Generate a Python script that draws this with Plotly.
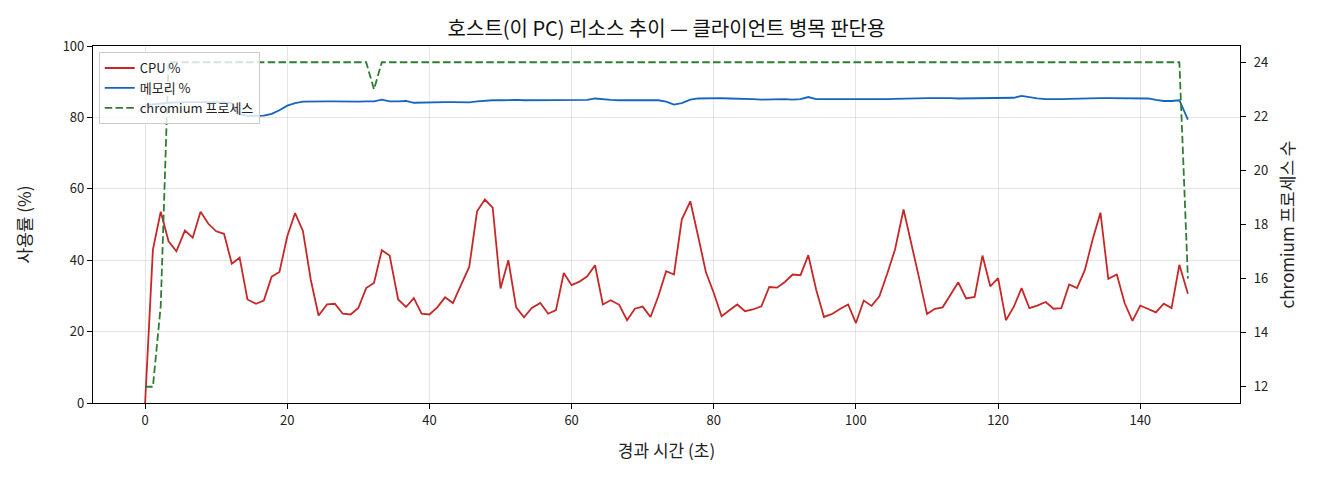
import plotly.graph_objects as go

# elapsed seconds
elapsed = [0.0, 1.1, 2.2, 3.3, 4.4, 5.6, 6.7, 7.8, 8.9, 10.0,
           11.1, 12.2, 13.3, 14.4, 15.6, 16.7, 17.8, 18.9, 20.0, 21.1,
           22.2, 23.3, 24.4, 25.6, 26.7, 27.8, 28.9, 30.0, 31.1, 32.2,
           33.3, 34.4, 35.6, 36.7, 37.8, 38.9, 40.0, 41.1, 42.2, 43.3,
           44.4, 45.6, 46.7, 47.8, 48.9, 50.0, 51.1, 52.2, 53.3, 54.4,
           55.6, 56.7, 57.8, 58.9, 60.0, 61.1, 62.2, 63.3, 64.4, 65.5,
           66.7, 67.8, 68.9, 70.0, 71.1, 72.2, 73.3, 74.4, 75.5, 76.7,
           77.8, 78.9, 80.0, 81.1, 82.2, 83.3, 84.4, 85.5, 86.7, 87.8,
           88.9, 90.0, 91.1, 92.2, 93.3, 94.4, 95.5, 96.7, 97.8, 98.9,
           100.0, 101.1, 102.2, 103.3, 104.4, 105.5, 106.7, 107.8, 108.9, 110.0,
           111.1, 112.2, 113.3, 114.4, 115.5, 116.7, 117.8, 118.9, 120.0, 121.1,
           122.2, 123.3, 124.4, 125.5, 126.7, 127.8, 128.9, 130.0, 131.1, 132.2,
           133.3, 134.4, 135.5, 136.7, 137.8, 138.9, 140.0, 141.1, 142.2, 143.3,
           144.4, 145.5, 146.7]

cpu_pct = [0.0, 43.0, 53.6, 45.3, 42.5, 48.3, 46.3, 53.6, 50.2, 48.1,
           47.4, 39.0, 40.7, 29.0, 27.8, 28.7, 35.4, 36.7, 46.7, 53.2,
           48.2, 34.6, 24.5, 27.6, 27.8, 25.0, 24.8, 26.6, 32.2, 33.6,
           42.8, 41.3, 29.0, 26.9, 29.4, 25.0, 24.8, 26.8, 29.6, 28.0,
           32.9, 38.1, 53.7, 57.0, 54.7, 32.1, 40.0, 26.8, 24.0, 26.6,
           28.0, 25.0, 26.0, 36.4, 33.0, 34.0, 35.5, 38.6, 27.6, 28.8,
           27.5, 23.2, 26.4, 27.0, 24.1, 29.9, 36.9, 36.0, 51.4, 56.5,
           46.7, 36.6, 30.8, 24.3, 26.0, 27.6, 25.7, 26.2, 27.1, 32.5,
           32.3, 33.9, 36.0, 35.8, 41.4, 31.8, 24.1, 25.0, 26.4, 27.6,
           22.4, 28.7, 27.2, 29.9, 36.2, 43.0, 54.2, 44.9, 34.9, 24.9,
           26.4, 26.8, 30.4, 33.8, 29.3, 29.7, 41.3, 32.7, 35.0, 23.2,
           26.9, 32.2, 26.6, 27.3, 28.3, 26.4, 26.6, 33.2, 32.2, 37.2,
           45.8, 53.3, 34.8, 36.0, 28.0, 23.0, 27.3, 26.4, 25.4, 27.8,
           26.6, 38.7, 30.6]

mem_pct = [83.4, 83.7, 84.0, 84.1, 84.2, 84.3, 84.3, 84.3, 84.3, 84.3,
           84.2, 84.0, 80.9, 80.4, 80.4, 80.5, 81.0, 82.0, 83.3, 84.0,
           84.4, 84.5, 84.5, 84.5, 84.5, 84.4, 84.4, 84.4, 84.5, 84.5,
           85.0, 84.5, 84.5, 84.6, 84.1, 84.2, 84.2, 84.2, 84.3, 84.3,
           84.3, 84.2, 84.5, 84.7, 84.8, 84.8, 84.9, 84.9, 84.8, 84.8,
           84.8, 84.8, 84.7, 84.7, 84.7, 84.8, 84.9, 85.3, 85.0, 84.9,
           84.8, 84.8, 84.8, 84.8, 84.9, 84.8, 84.4, 83.6, 84.0, 85.0,
           85.3, 85.4, 85.4, 85.4, 85.3, 85.3, 85.2, 85.1, 85.0, 85.1,
           85.1, 85.1, 85.0, 85.1, 85.7, 85.1, 85.1, 85.1, 85.1, 85.0,
           85.0, 84.9, 84.9, 85.0, 85.1, 85.2, 85.3, 85.4, 85.4, 85.4,
           85.4, 85.5, 85.4, 85.3, 85.3, 85.4, 85.4, 85.4, 85.4, 85.4,
           85.5, 86.0, 85.6, 85.3, 85.1, 85.0, 85.1, 85.2, 85.3, 85.4,
           85.4, 85.4, 85.4, 85.4, 85.4, 85.4, 85.4, 85.3, 84.9, 84.6,
           84.6, 84.8, 79.4]

chromium_count = [12, 12, 15, 24, 24, 24, 24, 24, 24, 24,
                  24, 24, 24, 24, 24, 24, 24, 24, 24, 24,
                  24, 24, 24, 24, 24, 24, 24, 24, 24, 23,
                  24, 24, 24, 24, 24, 24, 24, 24, 24, 24,
                  24, 24, 24, 24, 24, 24, 24, 24, 24, 24,
                  24, 24, 24, 24, 24, 24, 24, 24, 24, 24,
                  24, 24, 24, 24, 24, 24, 24, 24, 24, 24,
                  24, 24, 24, 24, 24, 24, 24, 24, 24, 24,
                  24, 24, 24, 24, 24, 24, 24, 24, 24, 24,
                  24, 24, 24, 24, 24, 24, 24, 24, 24, 24,
                  24, 24, 24, 24, 24, 24, 24, 24, 24, 24,
                  24, 24, 24, 24, 24, 24, 24, 24, 24, 24,
                  24, 24, 24, 24, 24, 24, 24, 24, 24, 24,
                  24, 24, 16]

x_ticks = [0, 20, 40, 60, 80, 100, 120, 140]
y_ticks = [0, 20, 40, 60, 80, 100]
y2_ticks = [12, 14, 16, 18, 20, 22, 24]

FONT = "Noto Sans CJK KR"
INK = "#222222"

fig = go.Figure()
fig.add_trace(go.Scatter(x=elapsed, y=cpu_pct, mode="lines", name="CPU %",
                         line=dict(color="#c62828", width=1.8)))
fig.add_trace(go.Scatter(x=elapsed, y=mem_pct, mode="lines", name="메모리 %",
                         line=dict(color="#1565c0", width=1.8)))
fig.add_trace(go.Scatter(x=elapsed, y=chromium_count, mode="lines", name="chromium 프로세스",
                         yaxis="y2", line=dict(color="#2e7d32", width=1.8, dash="7.5px,3.3px")))

fig.update_layout(
    width=1320, height=480,
    margin=dict(l=85, r=88, t=38, b=85),
    paper_bgcolor="white", plot_bgcolor="white",
    font=dict(family=FONT, size=13, color=INK),
    title=dict(text="호스트(이 PC) 리소스 추이 — 클라이언트 병목 판단용",
               x=(93 - 8 + (1240 - 93) / 2) / 1320, xref="container", xanchor="center",
               y=1 - 21 / 480, yref="container", yanchor="middle",
               font=dict(family=FONT, size=20, color="#111111")),
    xaxis=dict(range=[-7.33, 154.03], tickvals=x_ticks, ticks="outside", ticklen=5,
               tickcolor="black", showline=True, linecolor="black", linewidth=1.2, mirror=True,
               showgrid=True, gridcolor="rgba(0,0,0,0.1)", gridwidth=1, zeroline=False,
               tickfont=dict(size=13),
               title=dict(text="경과 시간 (초)", font=dict(size=17), standoff=17)),
    yaxis=dict(range=[0, 100], tickvals=y_ticks, ticks="outside", ticklen=5,
               tickcolor="black", showline=True, linecolor="black", linewidth=1.2,
               showgrid=True, gridcolor="rgba(0,0,0,0.1)", gridwidth=1, zeroline=False,
               tickfont=dict(size=13),
               title=dict(text="사용률 (%)", font=dict(size=17), standoff=26)),
    yaxis2=dict(range=[11.4, 24.6], tickvals=y2_ticks, overlaying="y", side="right",
                ticks="outside", ticklen=5, tickcolor="black", showline=True,
                linecolor="black", linewidth=1.2, showgrid=False, zeroline=False,
                tickfont=dict(size=13), ticklabelstandoff=5,
                title=dict(text="chromium 프로세스 수", font=dict(size=17), standoff=14)),
    legend=dict(x=0.005, y=0.983, xanchor="left", yanchor="top",
                bgcolor="rgba(255,255,255,0.8)", bordercolor="#cccccc", borderwidth=1,
                font=dict(family=FONT, size=13, color=INK), tracegroupgap=0,
                itemwidth=30),
    showlegend=True,
)

fig.write_html("out.html")
